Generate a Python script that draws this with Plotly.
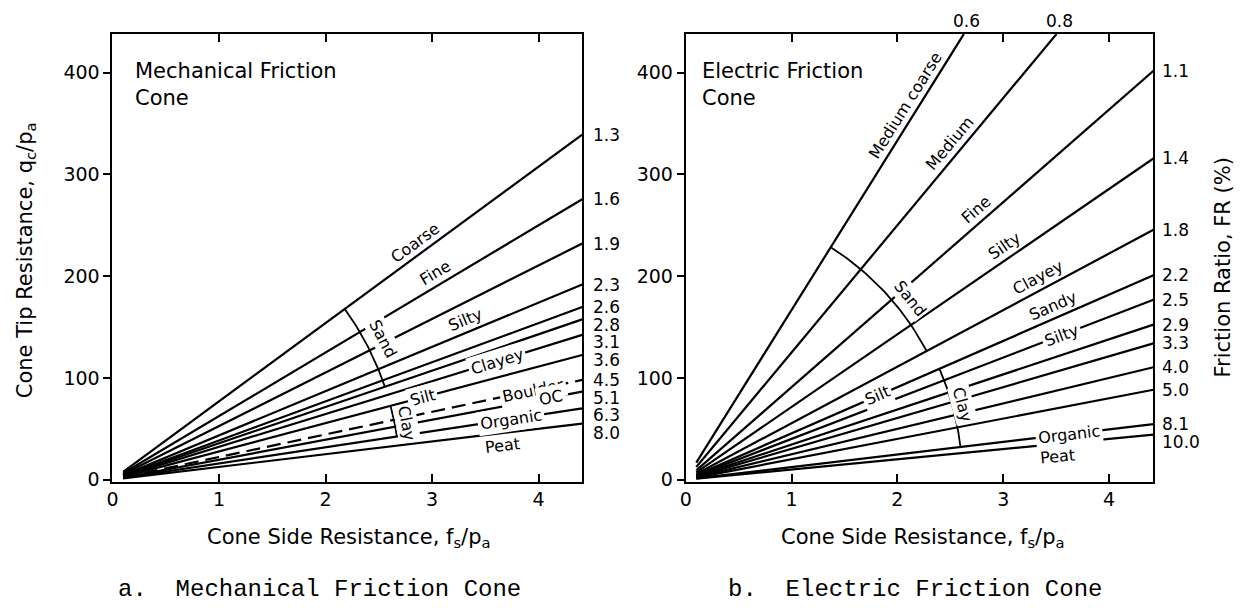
import math
import plotly.graph_objects as go

# ---------------------------------------------------------------------------
# Friction-ratio lines (FR = fs / qc * 100, in %)
# ---------------------------------------------------------------------------
mech_fr = [1.3, 1.6, 1.9, 2.3, 2.6, 2.8, 3.1, 3.6, 4.5, 5.1, 6.3, 8.0]
mech_fr_text = ["1.3", "1.6", "1.9", "2.3", "2.6", "2.8", "3.1", "3.6",
                "4.5", "5.1", "6.3", "8.0"]
mech_dashed_fr = [4.5]

elec_fr = [0.6, 0.8, 1.1, 1.4, 1.8, 2.2, 2.5, 2.9, 3.3, 4.0, 5.0, 8.1, 10.0]
elec_fr_text = ["0.6", "0.8", "1.1", "1.4", "1.8", "2.2", "2.5", "2.9",
                "3.3", "4.0", "5.0", "8.1", "10.0"]

x_ticks = [0, 1, 2, 3, 4]
y_ticks = [0, 100, 200, 300, 400]

# Soil-type names: (name, FR line it follows, fs/pa position, side of line)
mech_zone_names = [
    ("Coarse", 1.3, 2.91, "above"),
    ("Fine", 1.6, 3.09, "above"),
    ("Silty", 2.3, 3.36, "above"),
    ("Clayey", 3.1, 3.61, "inline"),
    ("Silt", 3.6, 2.91, "inline"),
    ("Boulder", 4.5, 3.95, "inline"),
    ("OC", 5.1, 4.12, "inline"),
    ("Organic", 6.3, 3.74, "inline"),
    ("Peat", 8.0, 3.65, "below"),
]
elec_zone_names = [
    ("Medium coarse", 0.6, 2.17, "above"),
    ("Medium", 0.8, 2.58, "above"),
    ("Fine", 1.1, 2.82, "above"),
    ("Silty", 1.4, 3.08, "above"),
    ("Clayey", 1.8, 3.38, "above"),
    ("Sandy", 2.2, 3.52, "above"),
    ("Silty", 2.5, 3.55, "inline"),
    ("Silt", 2.2, 1.81, "inline"),
    ("Organic", 8.1, 3.62, "inline"),
    ("Peat", 10.0, 3.50, "below"),
]

# Group brackets drawn as arcs between two FR lines: (name, from FR, to FR)
mech_groups = [("Sand", 1.3, 2.8), ("Clay", 3.6, 6.3)]
elec_groups = [("Sand", 0.6, 1.8), ("Clay", 2.2, 8.1)]

# ---------------------------------------------------------------------------
# Page geometry (screen pixels; SY converts to layout pixels vertically)
# ---------------------------------------------------------------------------
W, H = 1246, 608
SY = 618 / 608
PLOT_TOP, PLOT_BOTTOM = 34, 481
Y_MIN, Y_MAX = -2, 438
FS_START = 0.1
FONT = "DejaVu Sans"

panels = {
    "mech": dict(xa="x", ya="y", left=107, right=579, xmax=4.41,
                 fr=mech_fr, fr_text=mech_fr_text, names=mech_zone_names,
                 groups=mech_groups, arc_r=[289, 289], arc_frac=[0.5, 0.65],
                 arc_off=[17, 12], label_dx=10),
    "elec": dict(xa="x2", ya="y2", left=683, right=1153, xmax=4.42,
                 fr=elec_fr, fr_text=elec_fr_text, names=elec_zone_names,
                 groups=elec_groups, arc_r=[274, 278], arc_frac=[0.64, 0.5],
                 arc_off=[15, 10], label_dx=8),
}

PX_Y = (PLOT_BOTTOM - PLOT_TOP) / (Y_MAX - Y_MIN)


def qc_on_line(fs, fr):
    return 100.0 * fs / fr


def px_x(p):
    return (p["right"] - p["left"]) / p["xmax"]


def screen_angle(fr, p):
    return math.atan((100.0 / fr) * PX_Y / px_x(p))


def y_px(qc):
    return PLOT_BOTTOM - (qc - Y_MIN) * PX_Y


fig = go.Figure()
annotations = []

for key, p in panels.items():
    xa, ya = p["xa"], p["ya"]
    xref, yref = xa, ya

    # FR lines
    edge_labels = []
    for fr, txt in zip(p["fr"], p["fr_text"]):
        fs_end = min(p["xmax"], Y_MAX * fr / 100.0)
        dashed = key == "mech" and fr in mech_dashed_fr
        fig.add_trace(go.Scatter(
            x=[FS_START, fs_end],
            y=[qc_on_line(FS_START, fr), qc_on_line(fs_end, fr)],
            mode="lines", xaxis=xa, yaxis=ya, hoverinfo="skip",
            line=dict(color="black", width=2.2,
                      dash="14px,7px" if dashed else "solid"),
        ))
        if fs_end < p["xmax"]:
            annotations.append(dict(
                x=fs_end, y=Y_MAX, xref=xref, yref=yref, text=txt,
                showarrow=False, xanchor="center", yanchor="middle",
                yshift=13 * SY, xshift=3,
                font=dict(family=FONT, size=17, color="black"),
            ))
        else:
            edge_labels.append((txt, qc_on_line(fs_end, fr)))

    # labels at the right edge, nudged apart so they stack without overlap
    prev = -1e9
    for txt, qc in edge_labels:
        py = y_px(qc)
        adj = max(py, prev + 17.5)
        prev = adj
        annotations.append(dict(
            x=p["xmax"], y=qc, xref=xref, yref=yref, text=txt,
            showarrow=False, xanchor="left", yanchor="middle",
            xshift=p["label_dx"], yshift=(py - adj) * SY, borderpad=0,
            font=dict(family=FONT, size=17, color="black"),
        ))

    # soil-type names along the lines
    for name, fr, fs, side in p["names"]:
        th = screen_angle(fr, p)
        off = {"above": 12, "inline": 0, "below": -12}[side]
        ann = dict(
            x=fs, y=qc_on_line(fs, fr), xref=xref, yref=yref, text=name,
            showarrow=False, xanchor="center", yanchor="middle",
            textangle=-math.degrees(th),
            xshift=-off * math.sin(th), yshift=off * math.cos(th) * SY,
            font=dict(family=FONT, size=16, color="black"),
        )
        if side == "inline":
            ann.update(bgcolor="white", borderpad=2)
        annotations.append(ann)

    # group arcs (circular on screen, centred on the origin)
    sx = px_x(p)
    for (name, fa, fb), R, frac, off in zip(p["groups"], p["arc_r"],
                                            p["arc_frac"], p["arc_off"]):
        ta, tb = screen_angle(fa, p), screen_angle(fb, p)
        n = 40
        ts = [ta + (tb - ta) * i / (n - 1) for i in range(n)]
        fig.add_trace(go.Scatter(
            x=[R * math.cos(t) / sx for t in ts],
            y=[R * math.sin(t) / PX_Y for t in ts],
            mode="lines", xaxis=xa, yaxis=ya, hoverinfo="skip",
            line=dict(color="black", width=1.8),
        ))
        t = ta + (tb - ta) * frac
        rr = R + off
        annotations.append(dict(
            x=rr * math.cos(t) / sx, y=rr * math.sin(t) / PX_Y,
            xref=xref, yref=yref, text=name, showarrow=False,
            xanchor="center", yanchor="middle",
            textangle=90 - math.degrees(t), bgcolor="white", borderpad=1,
            font=dict(family=FONT, size=16, color="black"),
        ))


def paper_x(px):
    return px / W


def paper_y(py):
    return 1 - py * SY / H


title_font = dict(family=FONT, size=21, color="black")
caption_font = dict(family="Liberation Mono", size=24, color="black")


def page_text(px, py, text, font, xanchor="center", yanchor="middle",
              angle=0, align="center"):
    return dict(x=paper_x(px), y=paper_y(py), xref="paper", yref="paper",
                text=text, showarrow=False, xanchor=xanchor,
                yanchor=yanchor, textangle=angle, align=align, font=font,
                borderpad=0)


annotations += [
    page_text(129, 58, "Mechanical Friction<br>Cone", title_font,
              xanchor="left", yanchor="top", align="left"),
    page_text(698, 58, "Electric Friction<br>Cone", title_font,
              xanchor="left", yanchor="top", align="left"),
    page_text(345, 537, "Cone Side Resistance, f<sub>s</sub>/p<sub>a</sub>",
              title_font),
    page_text(921, 537, "Cone Side Resistance, f<sub>s</sub>/p<sub>a</sub>",
              title_font),
    page_text(20, 260, "Cone Tip Resistance, q<sub>c</sub>/p<sub>a</sub>",
              title_font, angle=-90),
    page_text(1223, 267, "Friction Ratio, FR (%)", title_font, angle=-90),
    page_text(112, 589, "a.  Mechanical Friction Cone", caption_font,
              xanchor="left"),
    page_text(724, 589, "b.  Electric Friction Cone", caption_font,
              xanchor="left"),
]

tick_font = dict(family=FONT, size=19, color="black")
y_domain = [1 - PLOT_BOTTOM * SY / H, 1 - PLOT_TOP * SY / H]


def x_axis(p, anchor):
    return dict(domain=[p["left"] / W, p["right"] / W], range=[0, p["xmax"]],
                anchor=anchor, tickvals=x_ticks, ticks="inside", ticklen=8,
                tickwidth=2, tickcolor="black", showline=True, linewidth=2,
                linecolor="black", mirror="ticks", showgrid=False,
                zeroline=False, tickfont=tick_font)


def y_axis(anchor):
    return dict(domain=y_domain, range=[Y_MIN, Y_MAX], anchor=anchor,
                tickvals=y_ticks, ticks="outside", ticklen=7, tickwidth=2,
                tickcolor="black", showline=True, linewidth=2,
                linecolor="black", mirror=True, showgrid=False,
                zeroline=False, tickfont=tick_font)


fig.update_layout(
    width=W, height=H, margin=dict(l=0, r=0, t=0, b=0),
    paper_bgcolor="white", plot_bgcolor="white", showlegend=False,
    xaxis=x_axis(panels["mech"], "y"), yaxis=y_axis("x"),
    xaxis2=x_axis(panels["elec"], "y2"), yaxis2=y_axis("x2"),
    annotations=annotations,
)

fig.write_html("out.html")

# keep the figure flush with the page corners
with open("out.html", encoding="utf-8") as fh:
    page = fh.read()
page = page.replace(
    "<head>",
    "<head><style>html,body{margin:0;padding:0;overflow:hidden;}</style>", 1)
with open("out.html", "w", encoding="utf-8") as fh:
    fh.write(page)
